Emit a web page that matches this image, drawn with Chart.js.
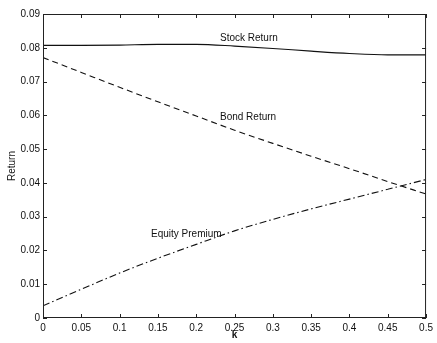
<!DOCTYPE html>
<html>
<head>
<meta charset="utf-8">
<script src="https://cdn.jsdelivr.net/npm/chart.js@4/dist/chart.umd.min.js"></script>
<style>
  html, body { margin: 0; padding: 0; background: #fff; overflow: hidden; }
  #wrap { width: 437px; height: 343px; }
</style>
</head>
<body>
<div id="wrap"><canvas id="retChart" width="437" height="343"></canvas></div>
<script>
const kValues = [0, 0.05, 0.1, 0.15, 0.2, 0.25, 0.3, 0.35, 0.4, 0.45, 0.5];
const stockReturn = [0.0807, 0.0807, 0.0808, 0.0810, 0.0810, 0.0805, 0.0798, 0.0790, 0.0783, 0.0779, 0.0779];
const bondReturn = [0.0771, 0.0727, 0.0683, 0.0640, 0.0598, 0.0556, 0.0517, 0.0479, 0.0442, 0.0404, 0.0367];
const equityPremium = [0.0036, 0.0085, 0.0133, 0.0177, 0.0218, 0.0258, 0.0292, 0.0323, 0.0352, 0.0381, 0.0410];

const xTickLabels = ["0", "0.05", "0.1", "0.15", "0.2", "0.25", "0.3", "0.35", "0.4", "0.45", "0.5"];
const yTickLabels = ["0", "0.01", "0.02", "0.03", "0.04", "0.05", "0.06", "0.07", "0.08", "0.09"];

// curve labels placed in data coordinates (k, return)
const curveLabels = [
    { text: "Stock Return", k: 0.231, v: 0.0828 },
    { text: "Bond Return", k: 0.231, v: 0.0595 },
    { text: "Equity Premium", k: 0.141, v: 0.0249 }
];

const FONT = "Liberation Sans, Arial, Helvetica, sans-serif";

function pts(ys) {
    return kValues.map((k, i) => ({ x: k, y: ys[i] }));
}

// frame + inward matlab-style ticks + curve labels
const matlabBox = {
    id: "matlabBox",
    afterDatasetsDraw(chart) {
        const { ctx, chartArea: a, scales } = chart;
        const xs = scales.x, ys = scales.y;
        ctx.save();
        ctx.strokeStyle = "#222";
        ctx.lineWidth = 1;
        ctx.strokeRect(a.left + 0.5, a.top + 0.5, a.right - a.left - 1, a.bottom - a.top - 1);
        ctx.beginPath();
        xs.ticks.forEach(t => {
            const px = Math.round(xs.getPixelForValue(t.value)) + 0.5;
            ctx.moveTo(px, a.bottom); ctx.lineTo(px, a.bottom - 4);
            ctx.moveTo(px, a.top); ctx.lineTo(px, a.top + 4);
        });
        ys.ticks.forEach(t => {
            const py = Math.round(ys.getPixelForValue(t.value)) + 0.5;
            ctx.moveTo(a.left, py); ctx.lineTo(a.left + 4, py);
            ctx.moveTo(a.right, py); ctx.lineTo(a.right - 4, py);
        });
        ctx.stroke();

        ctx.fillStyle = "#111";
        ctx.font = "10px " + FONT;
        ctx.textAlign = "left";
        ctx.textBaseline = "middle";
        curveLabels.forEach(l => {
            ctx.fillText(l.text, xs.getPixelForValue(l.k), ys.getPixelForValue(l.v));
        });
        ctx.restore();
    }
};

const ctx = document.getElementById("retChart").getContext("2d");
new Chart(ctx, {
    type: "line",
    data: {
        datasets: [
            {
                label: "Stock Return",
                data: pts(stockReturn),
                borderColor: "#111",
                borderWidth: 1.1,
                pointRadius: 0,
                cubicInterpolationMode: "monotone",
                fill: false
            },
            {
                label: "Bond Return",
                data: pts(bondReturn),
                borderColor: "#111",
                borderWidth: 1.1,
                borderDash: [6, 4],
                pointRadius: 0,
                cubicInterpolationMode: "monotone",
                fill: false
            },
            {
                label: "Equity Premium",
                data: pts(equityPremium),
                borderColor: "#111",
                borderWidth: 1.1,
                borderDash: [7, 3, 1.5, 3],
                pointRadius: 0,
                cubicInterpolationMode: "monotone",
                fill: false
            }
        ]
    },
    options: {
        responsive: false,
        animation: false,
        layout: { padding: { left: 0, right: 8, top: 14, bottom: 0 } },
        plugins: {
            legend: { display: false },
            tooltip: { enabled: false }
        },
        scales: {
            x: {
                type: "linear",
                min: 0,
                max: 0.5,
                grid: { display: false, drawTicks: false },
                border: { display: false },
                ticks: {
                    stepSize: 0.05,
                    padding: 4,
                    color: "#111",
                    font: { family: FONT, size: 10 },
                    maxRotation: 0,
                    callback: (v) => xTickLabels[Math.round(v / 0.05)]
                },
                title: {
                    display: true,
                    text: "k",
                    color: "#111",
                    font: { family: FONT, size: 10, weight: "bold" },
                    padding: { top: 0, bottom: 2 }
                },
                afterFit: (s) => { s.height = 25; }
            },
            y: {
                type: "linear",
                min: 0,
                max: 0.09,
                grid: { display: false, drawTicks: false },
                border: { display: false },
                ticks: {
                    stepSize: 0.01,
                    padding: 3,
                    color: "#111",
                    font: { family: FONT, size: 10 },
                    callback: (v) => yTickLabels[Math.round(v / 0.01)]
                },
                title: {
                    display: true,
                    text: "Return",
                    color: "#111",
                    font: { family: FONT, size: 10 },
                    padding: { top: 6, bottom: 0 }
                },
                afterFit: (s) => { s.width = 43; }
            }
        }
    },
    plugins: [matlabBox]
});
</script>
</body>
</html>
